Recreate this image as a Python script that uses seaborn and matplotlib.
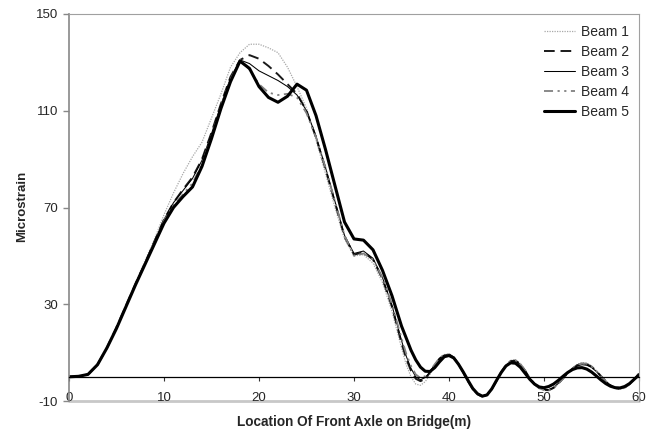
import numpy as np
import matplotlib
matplotlib.use("Agg")
import matplotlib.pyplot as plt
import seaborn as sns
from matplotlib.lines import Line2D

# x grid: 1 m steps up to 35 m, then 0.5 m steps to 60 m
location = np.concatenate([np.arange(0, 36, 1.0), np.arange(35.5, 60.01, 0.5)])

beam1 = [0, 0.2, 1.2, 5.5, 12.5, 21, 30, 39, 48, 57, 67, 76, 84, 91, 97, 107, 117, 128, 134, 137.5,
         137.5, 136, 134, 128, 120, 111, 98, 84, 70, 57, 50, 50.5, 47, 39, 27, 12,
         5, 0, -3, -3.5, -2, 1, 4.5, 7.5, 9.2, 9.5,
         8, 5.2, 1.8, -1.8, -5, -7.3, -8.2, -7.6, -5.2, -1.8,
         2, 5, 6.8, 7, 5.5, 2.8, -0.5, -3, -4.8, -5.6,
         -5.8, -4.8, -3, -0.8, 1.6, 3.6, 5.2, 5.9, 5.7, 4.5,
         2.6, 0.4, -1.8, -3.6, -4.8, -5.2, -4.6, -3.2, -1, 1.5]
beam2 = [0, 0.2, 1, 5, 12, 20.5, 29.5, 38.5, 47, 56, 65, 72, 77.5, 82.5, 90, 101, 113, 124, 131, 133,
         131.5, 128.5, 125, 121, 117, 110, 99, 86, 72, 58, 50.5, 51.5, 48.5, 40.5, 29, 14,
         7.5, 2.5, -0.8, -1.8, -0.8, 1.8, 4.8, 7.5, 9, 9.3,
         8, 5.2, 1.8, -1.8, -5, -7.2, -8.1, -7.5, -5.1, -1.7,
         2, 4.8, 6.5, 6.7, 5.3, 2.6, -0.6, -3, -4.7, -5.4,
         -5.5, -4.6, -2.8, -0.7, 1.5, 3.4, 4.8, 5.4, 5.2, 4.2,
         2.4, 0.3, -1.8, -3.5, -4.6, -5, -4.4, -3, -0.9, 1.3]
beam3 = [0, 0.2, 1, 5, 12, 20.5, 29.5, 38.5, 47, 56, 65, 72, 77, 82, 89.5, 100.5, 112.5, 123.5, 131, 129.5,
         126.5, 124.5, 122.5, 120, 116.5, 110, 99.5, 86.5, 72.5, 58.5, 51, 52, 49, 41, 29.5, 15,
         8.5, 3.5, 0, -1.2, -0.3, 2, 5, 7.6, 9, 9.2,
         7.9, 5.1, 1.7, -1.8, -5, -7.2, -8, -7.4, -5, -1.6,
         2, 4.7, 6.3, 6.5, 5.1, 2.5, -0.6, -2.9, -4.6, -5.2,
         -5.3, -4.4, -2.7, -0.6, 1.5, 3.2, 4.5, 5, 4.8, 3.9,
         2.2, 0.2, -1.8, -3.4, -4.5, -4.9, -4.3, -2.9, -0.8, 1.2]
beam4 = [0, 0.2, 1, 5, 12, 20.5, 29.5, 38.5, 47, 55.5, 64.5, 71, 75.5, 80, 88, 99.5, 112, 123, 131, 127,
         121, 117.5, 116.5, 117, 115.5, 109, 99, 86.5, 72.5, 58.5, 50, 51, 48.5, 41, 30, 16,
         9.5, 4.5, 1, -0.5, 0.3, 2.4, 5.2, 7.7, 9.1, 9.3,
         8, 5.2, 1.8, -1.8, -5, -7.3, -8.1, -7.5, -5.1, -1.7,
         2, 4.9, 6.6, 6.8, 5.4, 2.7, -0.5, -2.9, -4.7, -5.5,
         -5.6, -4.7, -2.9, -0.7, 1.6, 3.5, 5, 5.6, 5.4, 4.3,
         2.5, 0.3, -1.8, -3.5, -4.7, -5.1, -4.5, -3.1, -0.9, 1.4]
beam5 = [0, 0.2, 1, 5, 12, 20, 29, 38, 46.5, 55, 63.5, 70, 74.5, 78.5, 87, 98.5, 111, 122, 130.5, 127.5,
         120, 115.5, 113.5, 116, 121, 118.5, 108, 94, 79, 64, 57, 56.5, 52.5, 44, 33.5, 21,
         16, 11, 7, 4, 2.3, 2.2, 3.8, 6.2, 8.3, 8.8,
         7.8, 5.2, 2.0, -1.5, -4.8, -7.0, -8.0, -7.5, -5.0, -1.5,
         1.8, 4.5, 5.8, 5.6, 4.0, 1.5, -1.0, -3.0, -4.2, -4.5,
         -4.0, -3.0, -1.5, 0.2, 1.8, 3.0, 3.7, 3.8, 3.2, 2.0,
         0.4, -1.3, -2.8, -3.9, -4.5, -4.6, -4.0, -2.8, -1.0, 0.8]

series_names = ["Beam 1", "Beam 2", "Beam 3", "Beam 4", "Beam 5"]
series_values = [beam1, beam2, beam3, beam4, beam5]
y_ticks = [-10, 30, 70, 110, 150]
x_ticks = [0, 10, 20, 30, 40, 50, 60]

styles = [
    dict(color="#a8a8a8", lw=0.9, ls=(0, (1, 1))),
    dict(color="#1a1a1a", lw=1.4, ls=(0, (5.5, 3))),
    dict(color="#000000", lw=0.75, ls="-"),
    dict(color="#808080", lw=1.3, ls=(0, (5, 2.5, 1.2, 2.5, 1.2, 2.5))),
    dict(color="#000000", lw=2.2, ls="-"),
]

sns.set_style("white")
plt.rcParams['font.family'] = ['Liberation Sans', 'DejaVu Sans']

fig = plt.figure(figsize=(6.58, 4.37), dpi=100)
ax = fig.add_axes([69 / 658, 1 - 401 / 437, 570 / 658, 387 / 437])

for name, vals, st in zip(series_names, series_values, styles):
    sns.lineplot(x=location, y=vals, ax=ax, label=name, estimator=None,
                 color=st["color"], linewidth=st["lw"])
    ax.lines[-1].set_linestyle(st["ls"])

ax.set_xlim(0, 60)
ax.set_ylim(-10, 150)
ax.set_yticks(y_ticks)
ax.set_xticks(x_ticks)
ax.set_yticklabels([str(v) for v in y_ticks])
ax.set_xticklabels([str(v) for v in x_ticks])

for s in ["top", "right"]:
    ax.spines[s].set_color("#a0a0a0")
    ax.spines[s].set_linewidth(0.8)
ax.spines["left"].set_color("#888888")
ax.spines["left"].set_linewidth(1.2)
ax.spines["bottom"].set_position(("data", 0))
ax.spines["bottom"].set_color("#000000")
ax.spines["bottom"].set_linewidth(0.9)
ax.add_line(Line2D([0, 1], [0, 0], transform=ax.transAxes, color="#c8c8c8",
                   lw=2, clip_on=False, zorder=0.5))

ax.tick_params(axis="y", direction="out", length=4, width=1, color="#888888",
               pad=4, labelsize=9.5, left=True)
ax.tick_params(axis="x", direction="out", length=3, width=0.8, color="#333333",
               pad=8, labelsize=9.5, bottom=True)

fig.text(354 / 658, 1 - 422 / 437, "Location Of Front Axle on Bridge(m)",
         ha="center", va="center", fontsize=9.8, fontweight="bold")
fig.text(22 / 658, 1 - 206 / 437, "Microstrain", rotation=90,
         ha="center", va="center", fontsize=9.5, fontweight="bold")

ax.legend(loc="upper right", bbox_to_anchor=(629 / 658, 1 - 25 / 437),
          bbox_transform=fig.transFigure, frameon=False, fontsize=10,
          handlelength=2.2, handletextpad=0.45, labelspacing=0.43,
          borderpad=0, borderaxespad=0)

fig.savefig("out.png", dpi=100)
